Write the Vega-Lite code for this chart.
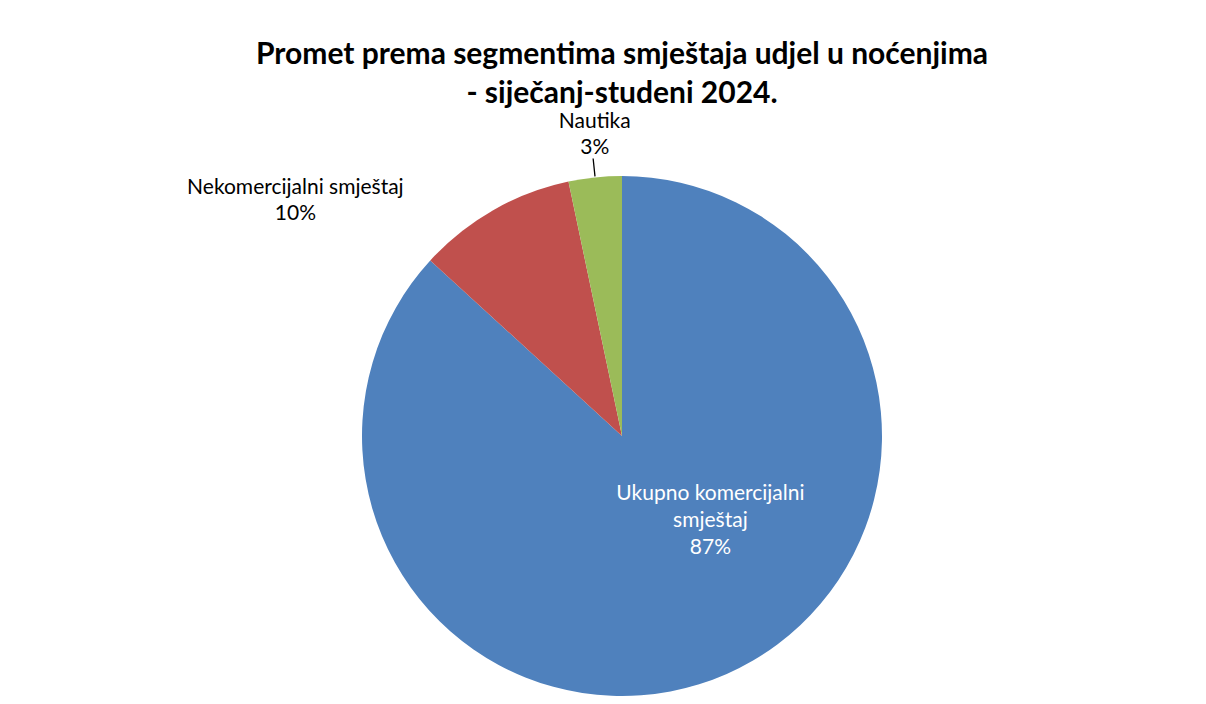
{
  "$schema": "https://vega.github.io/schema/vega-lite/v6.json",
  "autosize": "none",
  "width": 520,
  "height": 520,
  "padding": {"left": 362, "top": 176, "right": 324, "bottom": 8},
  "background": "white",
  "view": {"stroke": null},
  "title": {
    "text": ["Promet prema segmentima smještaja udjel u noćenjima", "- siječanj-studeni 2024."],
    "font": "Lato",
    "fontSize": 30,
    "fontWeight": "bold",
    "color": "#000000",
    "anchor": "middle",
    "lineHeight": 39,
    "offset": 2
  },
  "data": {
    "values": [
      {"segment": "Ukupno komercijalni smještaj", "value": 86.8, "label": ["Ukupno komercijalni", "smještaj", "87%"]},
      {"segment": "Nekomercijalni smještaj", "value": 9.9, "label": ["Nekomercijalni smještaj", "10%"]},
      {"segment": "Nautika", "value": 3.3, "label": ["Nautika", "3%"]}
    ]
  },
  "encoding": {
    "theta": {"field": "value", "type": "quantitative", "stack": true},
    "order": {"field": "value", "type": "quantitative", "sort": "descending"}
  },
  "layer": [
    {
      "mark": {"type": "arc", "radius": 260, "stroke": null},
      "encoding": {
        "color": {
          "field": "segment",
          "type": "nominal",
          "scale": {
            "domain": ["Ukupno komercijalni smještaj", "Nekomercijalni smještaj", "Nautika"],
            "range": ["#4F81BD", "#C0504D", "#9BBB59"]
          },
          "legend": null
        }
      }
    },
    {
      "mark": {"type": "arc", "radius": 279, "radius2": 261, "padAngle": 3, "fillOpacity": 0, "stroke": "#000000", "strokeWidth": 1.3},
      "encoding": {
        "strokeOpacity": {"condition": {"test": "datum.segment === 'Nautika'", "value": 1}, "value": 0}
      }
    },
    {
      "mark": {"type": "text", "radius": 130, "dx": 36, "dy": -61, "font": "Lato", "fontSize": 21, "lineHeight": 27, "color": "#FFFFFF", "align": "center", "baseline": "middle"},
      "encoding": {
        "text": {"condition": {"test": "datum.segment === 'Ukupno komercijalni smještaj'", "field": "label", "type": "nominal"}, "value": ""}
      }
    },
    {
      "mark": {"type": "text", "radius": 302, "dx": 4, "dy": -14, "font": "Lato", "fontSize": 21, "lineHeight": 26, "color": "#000000", "align": "center", "baseline": "middle"},
      "encoding": {
        "text": {"condition": {"test": "datum.segment === 'Nautika'", "field": "label", "type": "nominal"}, "value": ""}
      }
    },
    {
      "mark": {"type": "text", "radius": 302, "dx": -177, "dy": 14, "font": "Lato", "fontSize": 21, "lineHeight": 26, "color": "#000000", "align": "center", "baseline": "middle"},
      "encoding": {
        "text": {"condition": {"test": "datum.segment === 'Nekomercijalni smještaj'", "field": "label", "type": "nominal"}, "value": ""}
      }
    }
  ]
}
